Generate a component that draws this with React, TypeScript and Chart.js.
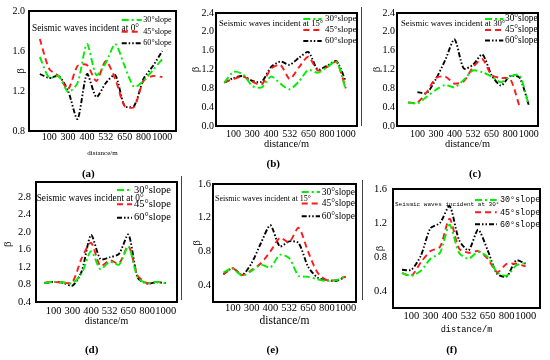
import React, { useEffect, useRef } from "react";
import { Chart, registerables } from "chart.js";
Chart.register(...registerables);

// ---------- shared labels ----------
const slotLabels = ["", "100", "", "300", "", "400", "", "532", "", "650", "", "800", "", "1000"];
const tickSlots = [1, 3, 5, 7, 9, 11, 13];
const seriesNames = ["30°slope", "45°slope", "60°slope"];
const xAxisTitle = "distance/m";
const yAxisTitle = "β";

// ---------- panel (a) ----------
const aTitle = "Seismic waves incident at 0°";
const a30 = [1.54, 1.33, 1.35, 1.19, 1.28, 1.67, 1.36, 1.48, 1.67, 1.45, 1.24, 1.30, 1.41, 1.52];
const a45 = [1.72, 1.42, 1.35, 1.22, 1.45, 1.46, 1.30, 1.50, 1.32, 1.05, 1.04, 1.30, 1.35, 1.34];
const a60 = [1.37, 1.33, 1.35, 1.20, 0.92, 1.37, 1.14, 1.28, 1.36, 1.05, 1.05, 1.32, 1.45, 1.60];
const aYTicks = [0.8, 1.2, 1.6, 2.0];

// ---------- panel (b) ----------
const bTitle = "Seismic waves incident at 15°";
const b30 = [0.92, 1.15, 1.10, 0.85, 0.82, 1.05, 0.90, 0.78, 0.95, 1.19, 1.13, 1.25, 1.37, 0.78];
const b45 = [0.93, 1.00, 1.05, 0.94, 0.88, 1.22, 1.30, 1.00, 1.25, 1.47, 1.18, 1.25, 1.36, 0.80];
const b60 = [0.92, 1.02, 1.06, 0.96, 0.94, 1.25, 1.37, 1.30, 1.45, 1.57, 1.20, 1.28, 1.38, 0.95];
const bYTicks = [0.0, 0.4, 0.8, 1.2, 1.6, 2.0, 2.4];

// ---------- panel (c) ----------
const cTitle = "Seismic waves incident at 30°";
const c30 = [0.50, 0.48, 0.62, 0.77, 0.87, 0.82, 0.98, 1.18, 1.14, 1.05, 0.93, 1.05, 1.08, 0.45];
const c45 = [0.50, 0.50, 0.72, 1.02, 1.05, 0.90, 0.95, 1.25, 1.42, 1.08, 1.02, 1.00, 0.42, null];
const c60 = [null, 0.72, 0.70, 1.00, 1.40, 1.84, 1.22, 1.30, 1.52, 1.08, 0.86, 1.06, 1.03, 0.45];
const cYTicks = [0.0, 0.4, 0.8, 1.2, 1.6, 2.0, 2.4];

// ---------- panel (d) ----------
const dTitle = "Seismic waves incident at 0°";
const d30 = [0.83, 0.86, 0.85, 0.83, 1.05, 1.56, 1.15, 1.32, 1.25, 1.67, 0.95, 0.83, 0.86, 0.83];
const d45 = [0.84, 0.86, 0.84, 0.85, 1.40, 1.75, 1.22, 1.35, 1.28, 1.68, 1.00, 0.83, 0.86, 0.83];
const d60 = [0.83, 0.86, 0.84, 0.77, 1.10, 1.93, 1.38, 1.42, 1.50, 1.94, 0.95, 0.82, 0.85, 0.83];
const dYTicks = [0.4, 0.8, 1.2, 1.6, 2.0, 2.4, 2.8];

// ---------- panel (e) ----------
const eTitle = "Seismic waves incident at 15°";
const e30 = [0.55, 0.60, 0.51, 0.57, 0.64, 0.61, 0.76, 0.72, 0.51, 0.50, 0.47, 0.45, 0.46, 0.51];
const e45 = [0.53, 0.60, 0.52, 0.58, 0.66, 0.80, 0.96, 0.91, 1.08, 0.80, 0.55, 0.46, 0.46, 0.50];
const e60 = [0.53, 0.60, 0.52, 0.66, 0.90, 1.11, 0.86, 0.92, 0.90, 0.62, 0.49, 0.46, 0.45, 0.50];
const eYTicks = [0.4, 0.8, 1.2, 1.6];

// ---------- panel (f) ----------
const fTitle = "Seismic waves incident at 30°";
const f30 = [0.61, 0.58, 0.64, 0.78, 0.85, 1.18, 0.85, 0.78, 0.86, 0.80, 0.62, 0.58, 0.70, 0.73];
const f45 = [0.61, 0.58, 0.74, 0.87, 0.92, 1.25, 0.90, 0.85, 0.87, 0.78, 0.62, 0.72, 0.72, 0.69];
const f60 = [0.65, 0.65, 0.82, 1.14, 1.20, 1.40, 1.00, 0.88, 1.12, 0.88, 0.60, 0.57, 0.76, 0.72];
const fYTicks = [0.4, 0.8, 1.2, 1.6];

const captions = ["(a)", "(b)", "(c)", "(d)", "(e)", "(f)"];

// ---------- styles ----------
const SERIF = "'Liberation Serif', 'Times New Roman', serif";
const MONO = "'Liberation Mono', 'DejaVu Sans Mono', monospace";
const lineStyles = [
  { color: "#00ee00", dash: [7, 3, 2, 3] },
  { color: "#ff1a1a", dash: [6, 4] },
  { color: "#000000", dash: [5, 2, 1.5, 2, 1.5, 2] },
];

type Panel = {
  series: (number | null)[][];
  title: string;
  yTicks: number[];
  yMin: number; yMax: number;
  xMin: number; xMax: number;
  box: { x: number; y: number; w: number; h: number };
  plot: { l: number; t: number; r: number; b: number };
  tickSize: number; tickFamily: string;
  xTickPad: number; yTickPad: number;
  xTitleY: number; xTitleSize: number; xTitleFamily: string;
  betaX: number; betaSize: number;
  titleX: number; titleY: number; titleFont: string;
  legLine: [number, number]; legTextX: number; legRows: number[]; legFont: string;
  caption: { x: number; y: number };
};

const panels: Panel[] = [
  {
    series: [a30, a45, a60], title: aTitle, yTicks: aYTicks, yMin: 0.8, yMax: 2.0, xMin: -1.15, xMax: 14.45,
    box: { x: 0, y: 0, w: 181, h: 160 }, plot: { l: 29, t: 11, r: 176, b: 131 },
    tickSize: 10, tickFamily: SERIF, xTickPad: 0, yTickPad: 4,
    xTitleY: 153, xTitleSize: 7, xTitleFamily: SERIF, betaX: 20.7, betaSize: 11,
    titleX: 32, titleY: 28.3, titleFont: `9.3px ${SERIF}`,
    legLine: [121.7, 141.7], legTextX: 143.3, legRows: [20, 31.7, 43.3], legFont: `8.1px ${SERIF}`,
    caption: { x: 88.3, y: 173.3 },
  },
  {
    series: [b30, b45, b60], title: bTitle, yTicks: bYTicks, yMin: 0, yMax: 2.4, xMin: -0.88, xMax: 14.2,
    box: { x: 181, y: 0, w: 181, h: 160 }, plot: { l: 216, t: 13, r: 357, b: 126 },
    tickSize: 10, tickFamily: SERIF, xTickPad: 2.7, yTickPad: 2,
    xTitleY: 144.3, xTitleSize: 10.4, xTitleFamily: SERIF, betaX: 195.7, betaSize: 11,
    titleX: 219, titleY: 23.3, titleFont: `8.7px ${SERIF}`,
    legLine: [303.3, 321.7], legTextX: 325, legRows: [19, 30, 41], legFont: `9px ${SERIF}`,
    caption: { x: 273.3, y: 163.3 },
  },
  {
    series: [c30, c45, c60], title: cTitle, yTicks: cYTicks, yMin: 0, yMax: 2.4, xMin: -1.2, xMax: 14.0,
    box: { x: 362, y: 0, w: 188, h: 160 }, plot: { l: 397, t: 13, r: 538, b: 126 },
    tickSize: 10, tickFamily: SERIF, xTickPad: 2.7, yTickPad: 2,
    xTitleY: 144.3, xTitleSize: 10.4, xTitleFamily: SERIF, betaX: 376.7, betaSize: 11,
    titleX: 401, titleY: 23.3, titleFont: `8.7px ${SERIF}`,
    legLine: [485, 503.3], legTextX: 505, legRows: [19, 30, 40.5], legFont: `9.3px ${SERIF}`,
    caption: { x: 475, y: 172.7 },
  },
  {
    series: [d30, d45, d60], title: dTitle, yTicks: dYTicks, yMin: 0.4, yMax: 3.04, xMin: -0.89, xMax: 14.2,
    box: { x: 0, y: 175, w: 181, h: 170 }, plot: { l: 36, t: 182, r: 177, b: 302 },
    tickSize: 10.5, tickFamily: SERIF, xTickPad: 3, yTickPad: 5,
    xTitleY: 321.7, xTitleSize: 10, xTitleFamily: SERIF, betaX: 8.3, betaSize: 11,
    titleX: 36.7, titleY: 199, titleFont: `9.3px ${SERIF}`,
    legLine: [117, 132], legTextX: 134, legRows: [190, 204.3, 217.7], legFont: `10.5px ${SERIF}`,
    caption: { x: 91.7, y: 349 },
  },
  {
    series: [e30, e45, e60], title: eTitle, yTicks: eYTicks, yMin: 0.2, yMax: 1.6, xMin: -1.1, xMax: 14.1,
    box: { x: 181, y: 175, w: 181, h: 170 }, plot: { l: 213, t: 184, r: 356, b: 302 },
    tickSize: 10.5, tickFamily: SERIF, xTickPad: 0, yTickPad: 2,
    xTitleY: 321, xTitleSize: 11.5, xTitleFamily: SERIF, betaX: 196.7, betaSize: 11,
    titleX: 215, titleY: 198.7, titleFont: `8px ${SERIF}`,
    legLine: [301.7, 320], legTextX: 321.7, legRows: [192, 203.5, 216.3], legFont: `9.5px ${SERIF}`,
    caption: { x: 272.7, y: 349 },
  },
  {
    series: [f30, f45, f60], title: fTitle, yTicks: fYTicks, yMin: 0.2, yMax: 1.6, xMin: -0.94, xMax: 14.5,
    box: { x: 362, y: 175, w: 188, h: 170 }, plot: { l: 393, t: 189, r: 540, b: 308 },
    tickSize: 10.5, tickFamily: SERIF, xTickPad: 2.4, yTickPad: 6,
    xTitleY: 330, xTitleSize: 8.6, xTitleFamily: MONO, betaX: 380, betaSize: 11,
    titleX: 395, titleY: 204, titleFont: `6px ${MONO}`,
    legLine: [475, 496.7], legTextX: 500, legRows: [200, 212.3, 224.3], legFont: `8.4px ${MONO}`,
    caption: { x: 451.7, y: 349 },
  },
];

const decorPlugin = {
  id: "decor",
  afterDraw(chart: any, _args: any, o: any) {
    const { ctx } = chart;
    ctx.save();
    ctx.fillStyle = "#000";
    ctx.textBaseline = "middle";
    ctx.textAlign = "left";
    ctx.font = o.titleFont;
    ctx.fillText(o.title, o.titleX - o.ox, o.titleY - o.oy);
    chart.data.datasets.forEach((ds: any, i: number) => {
      const y = o.legRows[i] - o.oy;
      ctx.strokeStyle = ds.borderColor;
      ctx.lineWidth = ds.borderWidth;
      ctx.setLineDash(ds.borderDash);
      ctx.beginPath();
      ctx.moveTo(o.legLine[0] - o.ox, y);
      ctx.lineTo(o.legLine[1] - o.ox, y);
      ctx.stroke();
      ctx.setLineDash([]);
      ctx.fillStyle = "#000";
      ctx.font = o.legFont;
      ctx.fillText(ds.label, o.legTextX - o.ox, y);
    });
    ctx.restore();
  },
};

function PanelChart({ p }: { p: Panel }) {
  const ref = useRef<HTMLCanvasElement>(null);
  useEffect(() => {
    const canvasBottom = p.box.y + p.box.h;
    const chart = new Chart(ref.current as HTMLCanvasElement, {
      type: "line",
      data: {
        datasets: p.series.map((vals, i) => ({
          label: seriesNames[i],
          data: vals
            .map((v, k) => ({ x: k, y: v }))
            .filter((pt) => pt.y !== null) as any,
          borderColor: lineStyles[i].color,
          borderDash: lineStyles[i].dash,
          borderWidth: 1.9,
          pointRadius: 0,
          fill: false,
          tension: 0.25,
        })),
      },
      options: {
        responsive: false,
        animation: false,
        devicePixelRatio: 1,
        events: [],
        layout: {
          padding: {
            left: 0,
            top: p.plot.t - p.box.y,
            right: p.box.x + p.box.w - p.plot.r,
            bottom: 0,
          },
        },
        plugins: {
          legend: { display: false },
          tooltip: { enabled: false },
          decor: {
            ox: p.box.x, oy: p.box.y,
            title: p.title, titleX: p.titleX, titleY: p.titleY, titleFont: p.titleFont,
            legLine: p.legLine, legTextX: p.legTextX, legRows: p.legRows, legFont: p.legFont,
          },
        } as any,
        scales: {
          x: {
            type: "linear",
            min: p.xMin,
            max: p.xMax,
            grid: { display: false, drawTicks: false },
            border: { display: false },
            afterBuildTicks: (s: any) => {
              s.ticks = tickSlots.map((v) => ({ value: v }));
            },
            afterFit: (s: any) => {
              s.height = canvasBottom - p.plot.b;
            },
            ticks: {
              autoSkip: false,
              maxRotation: 0,
              minRotation: 0,
              padding: p.xTickPad,
              color: "#000",
              font: { family: p.tickFamily, size: p.tickSize },
              callback: (v: any) => slotLabels[v] ?? "",
            },
            title: {
              display: true,
              text: xAxisTitle,
              color: "#000",
              font: { family: p.xTitleFamily, size: p.xTitleSize },
              padding: { top: 0, bottom: canvasBottom - p.xTitleY - 0.6 * p.xTitleSize },
            },
          },
          y: {
            type: "linear",
            min: p.yMin,
            max: p.yMax,
            grid: { display: false, drawTicks: false },
            border: { display: false },
            afterBuildTicks: (s: any) => {
              s.ticks = p.yTicks.map((v) => ({ value: v }));
            },
            afterFit: (s: any) => {
              s.width = p.plot.l - p.box.x;
            },
            ticks: {
              padding: p.yTickPad,
              color: "#000",
              font: { family: p.tickFamily, size: p.tickSize },
              callback: (v: any) => Number(v).toFixed(1),
            },
            title: {
              display: true,
              text: yAxisTitle,
              color: "#000",
              font: { family: SERIF, size: p.betaSize },
              padding: { top: p.betaX - p.box.x - 0.6 * p.betaSize, bottom: 0 },
            },
          },
        },
      },
      plugins: [decorPlugin],
    });
    return () => chart.destroy();
  }, [p]);
  return (
    <>
      <canvas
        ref={ref}
        width={p.box.w}
        height={p.box.h}
        style={{ position: "absolute", left: p.box.x, top: p.box.y, width: p.box.w, height: p.box.h }}
      />
      <div
        style={{
          position: "absolute",
          left: p.plot.l - 1,
          top: p.plot.t - 1,
          width: p.plot.r - p.plot.l - 2,
          height: p.plot.b - p.plot.t - 2,
          border: "2px solid #000",
          pointerEvents: "none",
        }}
      />
    </>
  );
}

export default function App() {
  return (
    <div style={{ position: "absolute", left: 0, top: 0, width: 550, height: 360, background: "#fff", overflow: "hidden" }}>
      {panels.map((p, i) => (
        <PanelChart key={i} p={p} />
      ))}
      {panels.map((p, i) => (
        <div
          key={"cap" + i}
          style={{
            position: "absolute",
            left: p.caption.x - 15,
            top: p.caption.y - 7,
            width: 30,
            height: 14,
            lineHeight: "14px",
            textAlign: "center",
            fontFamily: SERIF,
            fontWeight: "bold",
            fontSize: 11,
            color: "#000",
          }}
        >
          {captions[i]}
        </div>
      ))}
      <div style={{ position: "absolute", left: 361, top: 7, width: 1, height: 119, background: "#444" }} />
      <div style={{ position: "absolute", left: 181, top: 176, width: 1, height: 124, background: "#444" }} />
      <div style={{ position: "absolute", left: 362, top: 180, width: 1, height: 120, background: "#444" }} />
    </div>
  );
}
